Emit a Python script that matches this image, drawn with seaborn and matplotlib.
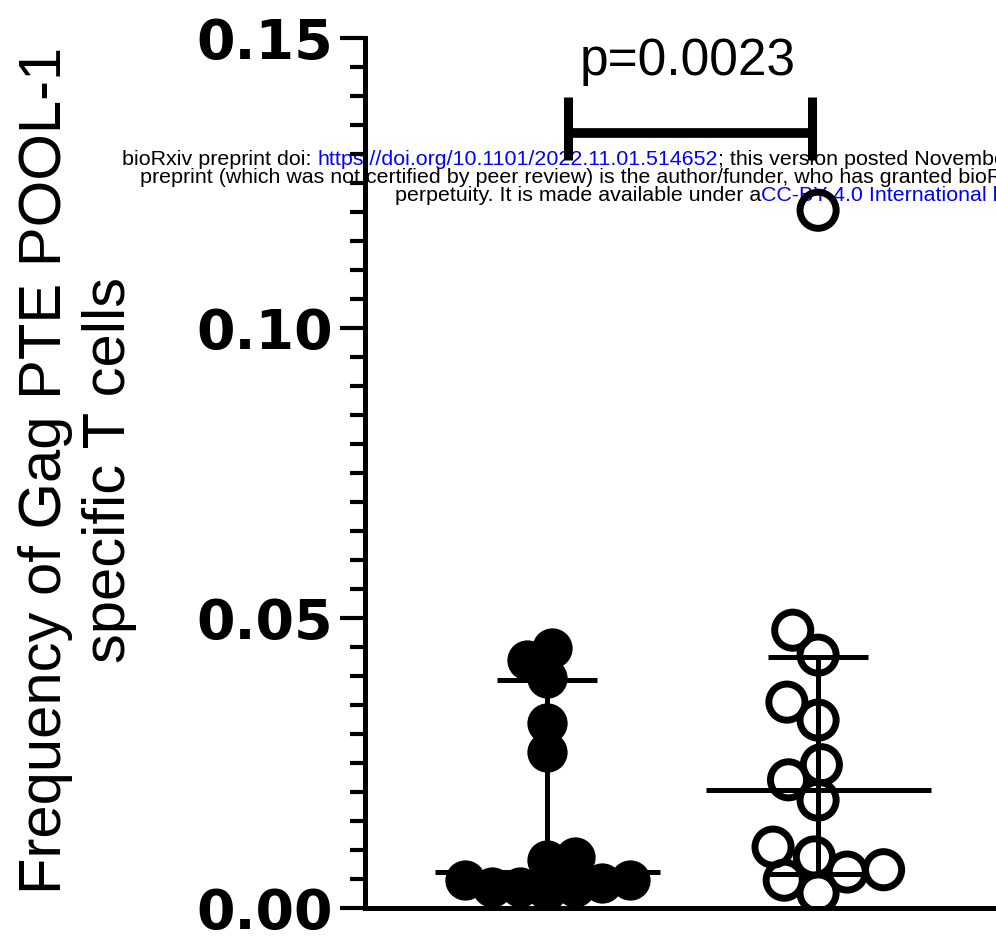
import numpy as np
import pandas as pd
import matplotlib
matplotlib.use("Agg")
import matplotlib.pyplot as plt
import seaborn as sns
from matplotlib.ticker import MultipleLocator

# ---------------- data ----------------
groups = ["Group A", "Group B"]
group_a_values = [0.0448, 0.0428, 0.0397, 0.0319, 0.0269, 0.0088, 0.0083,
                  0.0048, 0.0048, 0.0043, 0.0036, 0.0036, 0.0036, 0.0031]
group_b_values = [0.1203, 0.0479, 0.0436, 0.0355, 0.0324, 0.0247, 0.0221,
                  0.0186, 0.0105, 0.0088, 0.0066, 0.0062, 0.0048, 0.0026]
medians = [0.0062, 0.0203]
q1_values = [0.0036, 0.0058]
q3_values = [0.0393, 0.0433]
y_ticks = [0.00, 0.05, 0.10, 0.15]
y_tick_labels = ["0.00", "0.05", "0.10", "0.15"]
y_label = "Frequency of Gag PTE POOL-1\nspecific T cells"
p_label = "p=0.0023"
bracket_y = [0.1290, 0.1336, 0.1398]   # bottom of legs, bar, top of legs

header_lines = [
    [("bioRxiv preprint doi: ", "black"),
     ("https://doi.org/10.1101/2022.11.01.514652", "#0000ff"),
     ("; this version posted November 4, 2022. The copyright holder for this", "black")],
    [("preprint (which was not certified by peer review) is the author/funder, "
      "who has granted bioRxiv a license to display the preprint in", "black")],
    [("perpetuity. It is made available under a", "black"),
     ("CC-BY 4.0 International license", "#0000ff"),
     (".", "black")],
]

df = pd.DataFrame({
    "group": [groups[0]] * len(group_a_values) + [groups[1]] * len(group_b_values),
    "value": group_a_values + group_b_values,
})

# ---------------- figure ----------------
sns.set_style("ticks")
plt.rcParams["font.family"] = ["Liberation Sans", "DejaVu Sans"]
plt.rcParams.update({"text.color": "black", "axes.labelcolor": "black",
                     "axes.edgecolor": "black", "xtick.color": "black",
                     "ytick.color": "black"})

fig = plt.figure(figsize=(9.96, 9.43), dpi=100)
ax = fig.add_axes([0.3665, 0.0371, 0.727, 0.9226])

sns.swarmplot(data=df[df["group"] == groups[0]], x="group", y="value",
              color="black", size=19, ax=ax, order=groups)
sns.swarmplot(data=df[df["group"] == groups[1]], x="group", y="value",
              color="black", size=25, ax=ax, order=groups)
ax.set_xlim(-0.6716, 2.0)
ax.set_ylim(0, 0.15)

# compute swarm positions, then freeze them and set the final marker look
fig.canvas.draw()
for c in list(ax.collections):
    if "draw" in c.__dict__:
        del c.draw
    offs = np.asarray(c.get_offsets())
    if offs.size == 0:
        continue
    if offs[:, 0].mean() < 0.5:        # first group: filled dots
        c.set_sizes([29 ** 2])
        c.set_facecolor("black")
        c.set_edgecolor("black")
        c.set_linewidth(0)
    else:                               # second group: open circles
        c.set_sizes([26 ** 2])
        c.set_facecolor("none")
        c.set_edgecolor("black")
        c.set_linewidth(5)

# median and interquartile range
pos = np.arange(len(groups))
lw = 3.6
ax.vlines(pos, q1_values, q3_values, color="black", lw=lw, zorder=3)
ax.hlines(medians, pos - 0.415, pos + 0.415, color="black", lw=lw, zorder=3)
ax.hlines(q3_values, pos - 0.185, pos + 0.185, color="black", lw=lw, zorder=3)
ax.hlines(q1_values, pos - 0.185, pos + 0.185, color="black", lw=lw, zorder=3)

# significance bracket
bx0, bx1 = 0.0775, 0.978
ax.plot([bx0, bx1], [bracket_y[1]] * 2, color="black", lw=7,
        solid_capstyle="butt", clip_on=False, zorder=3)
ax.plot([bx0, bx0], [bracket_y[0], bracket_y[2]], color="black", lw=6.5,
        solid_capstyle="butt", clip_on=False, zorder=3)
ax.plot([bx1, bx1], [bracket_y[0], bracket_y[2]], color="black", lw=6.5,
        solid_capstyle="butt", clip_on=False, zorder=3)
ax.text((bx0 + bx1) / 2 - 0.01, 0.1436, p_label, ha="center", va="baseline",
        fontsize=37, color="black", family=["Liberation Sans", "DejaVu Sans"],
        clip_on=False)

# axes styling
for s in ["top", "right"]:
    ax.spines[s].set_visible(False)
ax.spines["left"].set_linewidth(3.6)
ax.spines["bottom"].set_linewidth(3.6)
ax.spines["left"].set_color("black")
ax.spines["bottom"].set_color("black")
ax.spines["left"].set_zorder(4)
ax.set_xticks([])
ax.set_xlabel("")
ax.set_yticks(y_ticks)
ax.set_yticklabels(y_tick_labels)
ax.yaxis.set_minor_locator(MultipleLocator(0.005))
ax.tick_params(axis="y", which="major", length=18, width=3, pad=5,
               labelsize=40, color="black", labelcolor="black")
ax.tick_params(axis="y", which="minor", length=11, width=3, color="black")
for lab in ax.get_yticklabels():
    lab.set_fontweight("bold")
    lab.set_family("DejaVu Sans")
ax.set_ylabel(y_label, fontsize=43, linespacing=1.2, color="black",
              family=["Liberation Sans", "DejaVu Sans"])
ax_w_px = 0.727 * 996
ax_h_px = 0.9226 * 943
ax.yaxis.set_label_coords((137 - 365) / ax_w_px, ((943 - 470) - 35) / ax_h_px)

# preprint header overlay (drawn underneath the plot marks)
line_starts = [(122, 165), (140, 183), (395, 201)]
for (x0, y0), pieces in zip(line_starts, header_lines):
    prev = None
    for txt, col in pieces:
        if prev is None:
            prev = ax.text(x0 / 996, 1 - y0 / 943, txt, transform=fig.transFigure,
                           color=col, fontsize=15.4, ha="left", va="baseline",
                           clip_on=False, zorder=0.5)
        else:
            prev = ax.annotate(txt, xy=(1, 0), xycoords=prev, color=col,
                               fontsize=15.4, ha="left", va="bottom",
                               annotation_clip=False, zorder=0.5)

fig.savefig("out.png", dpi=100)
